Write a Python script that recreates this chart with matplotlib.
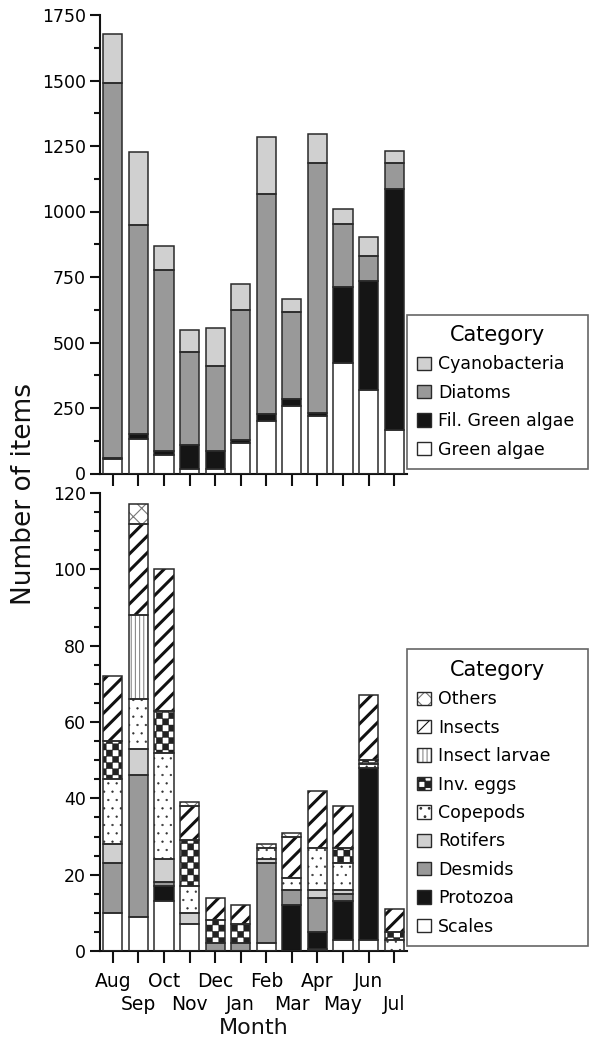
import numpy as np
import matplotlib
matplotlib.use('Agg')
import matplotlib.pyplot as plt
from matplotlib import hatch as mhatch
from matplotlib.path import Path
from matplotlib.patches import Patch
from matplotlib.ticker import MultipleLocator

months = ['Aug', 'Sep', 'Oct', 'Nov', 'Dec', 'Jan',
          'Feb', 'Mar', 'Apr', 'May', 'Jun', 'Jul']

# top panel: algae (stacked bottom -> top)
green_algae = [55, 130, 70, 18, 18, 115, 202, 259, 221, 423, 317, 165]
fil_green = [6, 20, 15, 89, 67, 12, 24, 25, 11, 288, 418, 920]
diatoms = [1431, 797, 692, 357, 325, 497, 839, 333, 955, 243, 94, 102]
cyano = [184, 281, 90, 84, 147, 98, 219, 50, 109, 55, 73, 45]

# bottom panel: animals etc. (stacked bottom -> top)
scales = [10, 9, 13, 7, 0, 0, 2, 0, 0.5, 3, 3, 0]
protozoa = [0, 0, 4, 0, 0, 0, 0, 12, 4.5, 10, 45, 0]
desmids = [13, 37, 1, 0, 2, 2, 21, 4, 9, 2, 0, 0]
rotifers = [5, 7, 6, 3, 0, 0, 1, 0, 2, 1, 0, 0]
copepods = [17, 13, 28, 7, 0, 0, 3, 3, 11, 7, 1, 3]
inv_eggs = [10, 0, 11, 12, 6, 5, 0, 0, 0, 4, 1, 2]
insect_larvae = [0, 22, 0, 0, 0, 0, 0, 0, 0, 0, 0, 0]
insects = [17, 24, 37, 9, 6, 5, 0, 11, 15, 11, 17, 6]
others = [0, 5, 0, 1, 0, 0, 1, 1, 0, 0, 0, 0]


class CheckerHatch(mhatch.HatchPatternBase):
    # '*' drawn as a checkerboard instead of stars
    def __init__(self, hatch, density):
        self.n = hatch.count('*') * 8
        self.num_vertices = (self.n * self.n // 2) * 5

    def set_vertices_and_codes(self, vertices, codes):
        s = 1.0 / self.n
        sq = np.array([[0, 0], [s, 0], [s, s], [0, s], [0, 0]])
        cells = [(i, j) for i in range(self.n) for j in range(self.n) if (i + j) % 2 == 0]
        vertices[:] = np.concatenate([sq + [i * s, j * s] for i, j in cells])
        codes[:] = np.tile([Path.MOVETO, Path.LINETO, Path.LINETO, Path.LINETO, Path.CLOSEPOLY], len(cells))


mhatch._hatch_types = [h for h in mhatch._hatch_types if h is not mhatch.Stars] + [CheckerHatch]

W, H = 590, 1043
fig = plt.figure(figsize=(W / 100, H / 100), dpi=100)
ax1 = fig.add_axes([100 / W, (H - 473.5) / H, 307 / W, (473.5 - 15) / H])
ax2 = fig.add_axes([100 / W, (H - 951) / H, 307 / W, (951 - 493) / H])

x = np.arange(len(months))
width = 0.75
EDGE = '#2a2a2a'
INK = '#111111'


def stack(ax, series, styles):
    bottom = np.zeros(len(months))
    handles = []
    for vals, (fc, hatch, hc, hlw) in zip(series, styles):
        vals = np.asarray(vals, float)
        idx = np.nonzero(vals > 0)[0]
        plt.rcParams['hatch.linewidth'] = hlw
        bars = ax.bar(x[idx], vals[idx], width, bottom=bottom[idx], color=fc,
                      hatch=hatch, edgecolor=hc, linewidth=0, zorder=2)
        for p in bars:
            if hasattr(p, 'set_hatch_linewidth'):
                p.set_hatch_linewidth(hlw)
        ax.bar(x[idx], vals[idx], width, bottom=bottom[idx], fill=False,
               edgecolor=EDGE, linewidth=1.1, zorder=3)
        hp = Patch(facecolor=fc, hatch=hatch, edgecolor=hc, linewidth=0)
        if hasattr(hp, 'set_hatch_linewidth'):
            hp.set_hatch_linewidth(hlw)
        handles.append((hp, Patch(fill=False, edgecolor=EDGE, linewidth=1.0)))
        bottom += vals
    return handles


top_labels = ['Green algae', 'Fil. Green algae', 'Diatoms', 'Cyanobacteria']
top_styles = [('white', None, EDGE, 1.0), ('#151515', None, EDGE, 1.0),
              ('#999999', None, EDGE, 1.0), ('#d0d0d0', None, EDGE, 1.0)]
h1 = stack(ax1, [green_algae, fil_green, diatoms, cyano], top_styles)

bot_labels = ['Scales', 'Protozoa', 'Desmids', 'Rotifers', 'Copepods',
              'Inv. eggs', 'Insect larvae', 'Insects', 'Others']
bot_styles = [('white', None, EDGE, 1.0), ('#151515', None, EDGE, 1.0),
              ('#999999', None, EDGE, 1.0), ('#d0d0d0', None, EDGE, 1.0),
              ('white', '..', '#333333', 0.4), ('white', '**', '#222222', 0.3),
              ('white', '||||', '#8a8a8a', 0.8), ('white', '//', '#111111', 2.2),
              ('white', 'xx', '#777777', 0.8)]
h2 = stack(ax2, [scales, protozoa, desmids, rotifers, copepods, inv_eggs,
                 insect_larvae, insects, others], bot_styles)

for ax in (ax1, ax2):
    ax.set_xlim(-0.5, 11.5)
    for s in ('top', 'right'):
        ax.spines[s].set_visible(False)
    for s in ('left', 'bottom'):
        ax.spines[s].set_linewidth(1.5)
        ax.spines[s].set_color(INK)
    ax.tick_params(axis='y', which='major', length=7, width=1.5, color=INK,
                   labelsize=12.5, pad=3)
    ax.tick_params(axis='y', which='minor', length=4.5, width=1.5, color=INK)
    ax.tick_params(axis='x', which='both', length=8.5, width=1.5, color=INK,
                   labelsize=13.5)

ax1.set_ylim(0, 1750)
ax1.yaxis.set_major_locator(MultipleLocator(250))
ax1.yaxis.set_minor_locator(MultipleLocator(125))
ax1.set_xticks(x)
ax1.set_xticklabels([])

ax2.set_ylim(0, 120)
ax2.yaxis.set_major_locator(MultipleLocator(20))
ax2.yaxis.set_minor_locator(MultipleLocator(5))
# alternate months on two rows
ax2.set_xticks(x[::2], months[::2])
ax2.set_xticks(x[1::2], months[1::2], minor=True)
ax2.tick_params(axis='x', which='major', pad=6.5)
ax2.tick_params(axis='x', which='minor', pad=23.5)

leg_kw = dict(title='Category', loc='lower left', mode='expand', borderaxespad=0,
              fancybox=False, edgecolor='#666666', framealpha=1, fontsize=12.5,
              title_fontsize=15, handlelength=0.8, handleheight=0.8,
              handletextpad=0.4, labelspacing=0.6, borderpad=0.6,
              bbox_transform=fig.transFigure)
leg1 = ax1.legend(h1[::-1], top_labels[::-1],
                  bbox_to_anchor=(407 / W, (H - 469) / H, 181 / W, 0.05), **leg_kw)
leg1.get_frame().set_linewidth(1.2)
leg2 = ax2.legend(h2[::-1], bot_labels[::-1],
                  bbox_to_anchor=(407 / W, (H - 946) / H, 181 / W, 0.05), **leg_kw)
leg2.get_frame().set_linewidth(1.2)

fig.text(24 / W, (H - 494) / H, 'Number of items', rotation=90, ha='center',
         va='center', fontsize=19, color=INK)
fig.text(254 / W, (H - 1028) / H, 'Month', ha='center', va='center',
         fontsize=16, color=INK)

fig.savefig('out.png', dpi=100)
